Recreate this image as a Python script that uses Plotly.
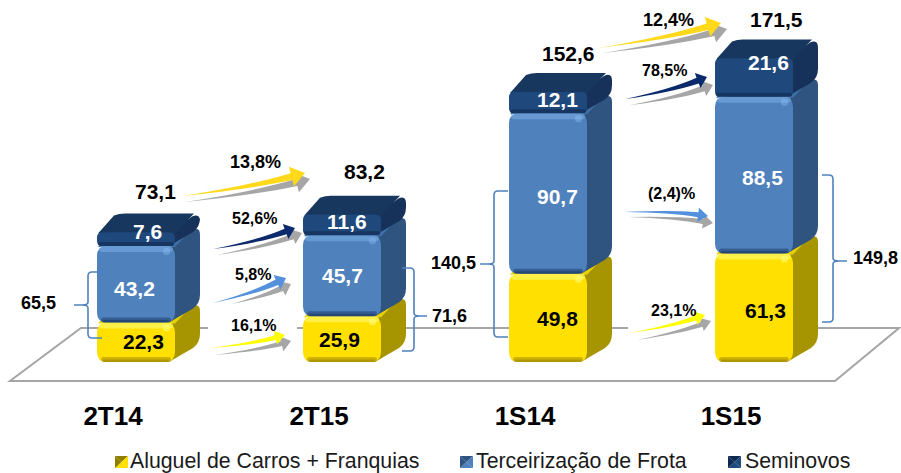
import plotly.graph_objects as go

W, H = 901, 473
categories = ["2T14", "2T15", "1S14", "1S15"]
aluguel = [22.3, 25.9, 49.8, 61.3]
terceirizacao = [43.2, 45.7, 90.7, 88.5]
seminovos = [7.6, 11.6, 12.1, 21.6]
totals = ["73,1", "83,2", "152,6", "171,5"]
subtotals = ["65,5", "71,6", "140,5", "149,8"]
series_names = ["Aluguel de Carros + Franquias", "Terceirização de Frota", "Seminovos"]
growth_total = ["13,8%", "12,4%"]
growth_semi = ["52,6%", "78,5%"]
growth_terc = ["5,8%", "(2,4)%"]
growth_alug = ["16,1%", "23,1%"]

# pixel frame of the plot area
PLOT_BOTTOM = 389
PX_PER_UNIT = 1.77
PITCH = 206.0
TICK0 = 113.0
BASE_PX = 362.0
FRONT_L = -16.0   # front face left, from tick
FRONT_W = 78.0
DX, DY = 25.0, 19.0
R = 10.0


def X(px):
    return (px - TICK0) / PITCH


def Y(py):
    return (BASE_PX - py) / PX_PER_UNIT


XR = [X(0), X(W)]
YR = [Y(PLOT_BOTTOM), Y(0)]
shapes, annos = [], []


def PX(px):
    return px / W


def PY(py):
    return (PLOT_BOTTOM - py) / PLOT_BOTTOM


def pth(cmds, paper=False):
    fx, fy = (PX, PY) if paper else (X, Y)
    out = []
    for c in cmds:
        if c[0] == "Z":
            out.append("Z")
        else:
            pts = c[1:]
            out.append(c[0] + " " + " ".join(f"{fx(pts[i]):.5f},{fy(pts[i+1]):.5f}" for i in range(0, len(pts), 2)))
    return " ".join(out)


def add_path(cmds, fill=None, line=None, lw=0, layer="between", paper=False):
    ref = "paper" if paper else None
    s = dict(type="path", xref=ref or "x", yref=ref or "y", path=pth(cmds, paper), layer=layer,
             line=dict(width=lw, color=line or "rgba(0,0,0,0)"))
    if fill:
        s["fillcolor"] = fill
    shapes.append(s)


def rrect(x0, y0, x1, y1, r):
    r = min(r, (y1 - y0) / 2, (x1 - x0) / 2)
    return [("M", x0 + r, y0), ("L", x1 - r, y0), ("Q", x1, y0, x1, y0 + r), ("L", x1, y1 - r), ("Q", x1, y1, x1 - r, y1),
            ("L", x0 + r, y1), ("Q", x0, y1, x0, y1 - r), ("L", x0, y0 + r), ("Q", x0, y0, x0 + r, y0), ("Z",)]


def rect(x0, y0, x1, y1, fill, layer="above"):
    add_path([("M", x0, y0), ("L", x1, y0), ("L", x1, y1), ("L", x0, y1), ("Z",)], fill=fill, layer=layer)


def add_text(x, y, text, size, color="#000000", bold=True, anchor="center", paper=False):
    annos.append(dict(x=PX(x) if paper else X(x), y=PY(y) if paper else Y(y), xref="paper" if paper else "x",
                      yref="paper" if paper else "y", text=f"<b>{text}</b>" if bold else text, showarrow=False,
                      xanchor=anchor, yanchor="middle", font=dict(family="Liberation Sans, Arial", size=size, color=color)))


def arrow(x0, y0, x1, y1, color, L=12, HW=8, NW=3.0, bulge=4.0):
    dx, dy = x1 - x0, y1 - y0
    ln = (dx * dx + dy * dy) ** 0.5
    px_, py_ = -dy / ln, dx / ln
    if py_ < 0:
        px_, py_ = -px_, -py_
    cx, cy = x0 + 0.55 * dx + px_ * bulge, y0 + 0.55 * dy + py_ * bulge
    tx, ty = x1 - cx, y1 - cy
    tl = (tx * tx + ty * ty) ** 0.5
    tx, ty = tx / tl, ty / tl
    nx, ny = -ty, tx
    mx, my = x1 - L * tx, y1 - L * ty
    add_path([("M", x0, y0),
              ("Q", cx - nx * NW * .5, cy - ny * NW * .5, mx - nx * NW, my - ny * NW),
              ("L", mx - nx * HW, my - ny * HW), ("L", x1, y1), ("L", mx + nx * HW, my + ny * HW), ("L", mx + nx * NW, my + ny * NW),
              ("Q", cx + nx * NW * .5, cy + ny * NW * .5, x0, y0), ("Z",)], fill=color, layer="above")


def bracket(xe, xv, xt, ytop, ymid, ybot):
    s = 1 if xe > xv else -1
    c = 4
    d = [("M", xe, ytop), ("L", xv + s * c, ytop), ("Q", xv, ytop, xv, ytop + c), ("L", xv, ymid - 3),
         ("Q", xv, ymid, xt + (xv - xt) * 0.6, ymid), ("L", xt, ymid), ("L", xt + (xv - xt) * 0.6, ymid),
         ("Q", xv, ymid, xv, ymid + 3), ("L", xv, ybot - c), ("Q", xv, ybot, xv + s * c, ybot), ("L", xe, ybot)]
    add_path(d, line="#4F81BD", lw=1.6, layer="above")


# floor
add_path([("M", 10, 381), ("L", 835, 381), ("L", 899, 328), ("L", 81, 328), ("Z",)], line="#A6A6A6", lw=2, layer="below")
rect(208, 325, 297, 331, "#FFFFFF", layer="below")
rect(628, 325, 715, 331, "#FFFFFF", layer="below")

styles = [
    dict(front="#FFE000", side="#A69500", top="#E8D000", hi="rgba(255,250,120,0.60)", lo="rgba(130,110,0,0.40)", text="#000000"),
    dict(front="#4F81BD", side="#2F5480", top="#3F6FA8", hi="rgba(140,190,245,0.40)", lo="rgba(15,40,80,0.40)", text="#FFFFFF"),
    dict(front="#1F497D", side="#16325A", top="#17375E", hi="rgba(70,120,180,0.22)", lo="rgba(10,25,55,0.40)", text="#FFFFFF"),
]
stacks = [aluguel, terceirizacao, seminovos]
label_dx = [[7, -3, 9, 11], [-2, 0, 9, 8], [11, 5, 9, 14]]
label_dy = [[-1, 0, 1, 3], [4, 0, 3, 2], [-8, -4, -3, -15]]

traces = []
for i, name in enumerate(series_names):
    st = styles[i]
    traces.append(go.Bar(x=list(range(4)), y=stacks[i], name=name, base=[sum(stacks[k][j] for k in range(i)) for j in range(4)],
                         offset=(FRONT_L + R) / PITCH, width=(FRONT_W - 2 * R) / PITCH,
                         marker=dict(color=st["front"], line=dict(width=0)), showlegend=False, hoverinfo="x+y+name"))

for i in range(3):
    st = styles[i]
    for j in range(4):
        base = sum(stacks[k][j] for k in range(i))
        top = base + stacks[i][j]
        xl = TICK0 + PITCH * j + FRONT_L
        xr = xl + FRONT_W
        yb = BASE_PX - base * PX_PER_UNIT
        yt = BASE_PX - top * PX_PER_UNIT
        r = 5 if i == 2 else R
        # right side face, rounded far corners
        add_path([("M", xr - 6, yt + 1), ("L", xr + DX - 8, yt - DY + 3), ("Q", xr + DX, yt - DY - 1, xr + DX, yt - DY + 8),
                  ("L", xr + DX, yb - DY - 9), ("Q", xr + DX, yb - DY, xr + DX - 7, yb - DY + 5), ("L", xr - 6, yb), ("Z",)],
                 fill=st["side"])
        # top face
        add_path([("M", xl + 1, yt + 1), ("L", xl + DX - 8, yt - DY + 2), ("Q", xl + DX - 3, yt - DY, xl + DX + 3, yt - DY),
                  ("L", xr + DX - 6, yt - DY), ("L", xr, yt + 1), ("Z",)], fill=st["top"])
        # rounded front face under the bar
        add_path(rrect(xl, yt, xr, yb, r), fill=st["front"])
        # bevel above the bar
        if i < 2:
            add_path(rrect(xl + 2, yt, xr - 2, yt + 6, 3), fill=st["hi"], layer="above")
            add_path(rrect(xl + 4, yb - 5, xr - 4, yb, 2.5), fill=st["lo"], layer="above")
            add_path(rrect(xl + 6, yb - 2.5, xr - 6, yb, 1), fill=st["lo"], layer="above")
            add_path(rrect(xr - 12, yt + 2, xr - 5, yt + 9, 3), fill=st["hi"], layer="above")
        else:
            add_path(rrect(xl + 1, yb - 4, xr - 1, yb, 2), fill=st["lo"], layer="above")
        add_text(xl + FRONT_W / 2 + label_dx[i][j], (yb + yt) / 2 + label_dy[i][j],
                 f"{stacks[i][j]:.1f}".replace(".", ","), 21, st["text"])

for x, y, t in zip([155, 364, 568, 776], [191, 171, 53, 19], totals):
    add_text(x, y, t, 21)
for x, y, t in zip([38, 449, 453, 875], [303, 316, 263, 258], subtotals):
    add_text(x, y, t, 18)
for xy, t in zip([(255, 162), (668, 20)], growth_total):
    add_text(*xy, t, 18)
for xy, t in zip([(254, 218), (664, 70)], growth_semi):
    add_text(*xy, t, 16)
for xy, t in zip([(253, 274), (671, 193)], growth_terc):
    add_text(*xy, t, 16)
for xy, t in zip([(253, 325), (673, 310)], growth_alug):
    add_text(*xy, t, 16)

GRAY = "#A6A6A6"
GOLD, NAVY, SKY, LEMON = "#FFD91A", "#0B2A6B", "#5590DC", "#FFFF00"
arrow(185, 202, 310, 179, GRAY, L=14, HW=10, NW=3.5, bulge=4)
arrow(182, 196, 305, 173, GOLD, L=14, HW=10, NW=3.5, bulge=4)
arrow(217, 255, 302, 233, GRAY, L=10, HW=8, NW=3, bulge=4)
arrow(213, 249, 295, 228, NAVY, L=10, HW=8, NW=3, bulge=4)
arrow(232, 304, 291, 284, GRAY, L=10, HW=8, NW=3, bulge=3)
arrow(213, 303, 286, 278, SKY, L=10, HW=8, NW=3, bulge=4)
arrow(215, 355, 291, 341, GRAY, L=10, HW=8, NW=2.5, bulge=3)
arrow(210, 348, 285, 335, LEMON, L=10, HW=7, NW=2.5, bulge=3)
arrow(603, 53, 727, 29, GRAY, L=14, HW=10, NW=3.5, bulge=4)
arrow(598, 48, 721, 23, GOLD, L=14, HW=10, NW=3.5, bulge=4)
arrow(630, 105, 713, 85, GRAY, L=10, HW=8, NW=3, bulge=4)
arrow(625, 99, 707, 77, NAVY, L=10, HW=8, NW=3, bulge=4)
arrow(628, 217, 713, 223, GRAY, L=10, HW=7, NW=2.5, bulge=-3)
arrow(624, 212, 708, 216, SKY, L=10, HW=7, NW=2.5, bulge=-3)
arrow(637, 340, 711, 321, GRAY, L=10, HW=7, NW=2.5, bulge=3)
arrow(630, 333, 705, 315, LEMON, L=10, HW=7, NW=2.5, bulge=3)

bracket(102, 88, 74, 272, 305, 338)
bracket(402, 414, 427, 268, 316, 351)
bracket(508, 494, 480, 191, 264, 337)
bracket(822, 833, 847, 175, 261, 322)

swatches = [(115, "#FFE000", "#8F7F00"), (460, "#4F81BD", "#2F5480"), (728, "#1F497D", "#0F2A50")]
for (sx, c, d), tx, t in zip(swatches, [128, 474, 743], series_names):
    y0, y1 = 456, 468
    m = (y0 + y1) / 2
    xc = sx + 6.5
    add_path([("M", sx, y0), ("L", sx + 13, y0), ("L", xc, m), ("Z",)], fill=d, layer="above", paper=True)
    add_path([("M", sx, y1), ("L", sx + 13, y1), ("L", xc, m), ("Z",)], fill=c, layer="above", paper=True)
    add_path([("M", sx, y0), ("L", sx, y1), ("L", xc, m), ("Z",)], fill=d, layer="above", paper=True)
    add_path([("M", sx + 13, y0), ("L", sx + 13, y1), ("L", xc, m), ("Z",)], fill=c, layer="above", paper=True)
    add_text(tx, 461, t, 21.3, "#1A1A1A", bold=False, anchor="left", paper=True)

fig = go.Figure(traces)
fig.update_layout(
    width=W, height=H, autosize=False, barmode="overlay", showlegend=False,
    margin=dict(l=0, r=0, t=0, b=H - PLOT_BOTTOM), paper_bgcolor="white", plot_bgcolor="white",
    shapes=shapes, annotations=annos,
    xaxis=dict(range=XR, tickmode="array", tickvals=list(range(4)), ticktext=[f"<b>{c}</b>" for c in categories],
               showgrid=False, zeroline=False, showline=False, ticks="outside", ticklen=4, tickcolor="rgba(0,0,0,0)",
               tickfont=dict(family="Liberation Sans, Arial", size=26, color="#000000")),
    yaxis=dict(range=YR, visible=False, showgrid=False, zeroline=False),
)
fig.write_html("out.html", config={"displayModeBar": False},
               post_script="document.body.style.margin='0';document.body.style.overflow='hidden';")
